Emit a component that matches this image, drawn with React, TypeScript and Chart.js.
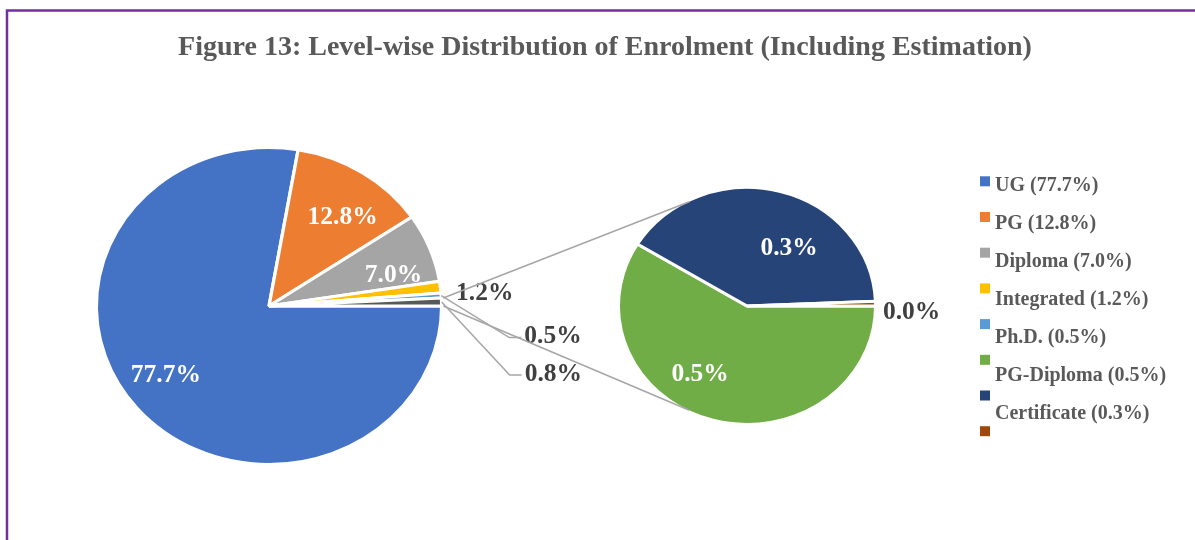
import React, { useEffect, useRef } from 'react';
import { Chart, registerables } from 'chart.js';

Chart.register(...registerables);

// ---------- data ----------
const titleText = 'Figure 13: Level-wise Distribution of Enrolment (Including Estimation)';
const mainCategories = ['UG', 'PG', 'Diploma', 'Integrated', 'Ph.D.'];
const mainValues = [77.7, 12.8, 7.0, 1.2, 0.5];
const secondaryCategories = ['PG-Diploma', 'Certificate', ''];
const secondaryValues = [0.47, 0.325, 0.005];

// ---------- styles ----------
const mainColors = ['#4472C4', '#ED7D31', '#A5A5A5', '#FFC000', '#5B9BD5'];
const otherSliceColor = '#595959';
const secondaryColors = ['#70AD47', '#264478', '#9E480E'];

const W = 1195;
const H = 540;
const FONT = "'Liberation Serif', 'Times New Roman', serif";
const TEXT_GRAY = '#595959';
const LABEL_DARK = '#404040';
const LINE_GRAY = '#A6A6A6';
const FRAME = '#7030A0';
const SLICE_BORDER = 3;

const MAIN_GEOM = { cx: 269, cy: 306, r: 157, sx: 171 / 157 };
const SEC_GEOM = { cx: 747, cy: 306, r: 117, sx: 127 / 117 };

// label placement styles (per slice)
const mainLabelStyle: any[] = [
  { kind: 'in', f: 0.72, dx: -9, dy: -6 },
  { kind: 'in', f: 0.72, dx: 7, dy: 4 },
  { kind: 'in', f: 0.72, dx: 10, dy: 9 },
  { kind: 'out', dx: 46, dy: 4.5 },
  { kind: 'leader', ex: 68, ey: 42 },
  { kind: 'leader', ex: 68, ey: 73, clipY: 381 },
];
const secLabelStyle: any[] = [
  { kind: 'in', f: 0.72, dx: -22, dy: -15 },
  { kind: 'in', f: 0.72, dx: 19, dy: 22 },
  { kind: 'outLeft', dx: 9, dy: 7 },
];

const LABEL_SIZE = 25.5;

function padFor(g: { cx: number; cy: number }) {
  const hw = Math.min(g.cx, W - g.cx);
  const hh = Math.min(g.cy, H - g.cy);
  return { left: g.cx - hw, right: W - (g.cx + hw), top: g.cy - hh, bottom: H - (g.cy + hh) };
}

function fmt(v: number) {
  return v.toFixed(1) + '%';
}

function drawCenteredText(ctx: CanvasRenderingContext2D, text: string, x: number, yc: number, size: number, color: string, align: CanvasTextAlign) {
  ctx.font = `bold ${size}px ${FONT}`;
  ctx.fillStyle = color;
  ctx.textAlign = align;
  ctx.textBaseline = 'alphabetic';
  ctx.fillText(text, x, yc + size * 0.34);
}

function ellipsePlugin(id: string, sx: number) {
  return {
    id,
    beforeDatasetsDraw(chart: any) {
      const a = chart.getDatasetMeta(0).data[0];
      const ctx = chart.ctx;
      ctx.save();
      ctx.translate(a.x, a.y);
      ctx.scale(sx, 1);
      ctx.translate(-a.x, -a.y);
    },
    afterDatasetsDraw(chart: any) {
      chart.ctx.restore();
    },
  };
}

function pointOn(arc: any, sx: number, angle: number, f: number) {
  const R = arc.outerRadius - SLICE_BORDER / 2;
  return { x: arc.x + sx * R * f * Math.cos(angle), y: arc.y + R * f * Math.sin(angle) };
}

function drawSliceLabels(chart: any, sx: number, styles: any[], values: number[]) {
  const ctx: CanvasRenderingContext2D = chart.ctx;
  const arcs = chart.getDatasetMeta(0).data;
  arcs.forEach((arc: any, i: number) => {
    const st = styles[i];
    const mid = (arc.startAngle + arc.endAngle) / 2;
    const text = fmt(values[i]);
    if (st.kind === 'in') {
      const p = pointOn(arc, sx, mid, st.f);
      drawCenteredText(ctx, text, p.x + st.dx, p.y + st.dy, LABEL_SIZE, '#FFFFFF', 'center');
    } else if (st.kind === 'out') {
      const p = pointOn(arc, sx, mid, 1);
      drawCenteredText(ctx, text, p.x + st.dx, p.y + st.dy, LABEL_SIZE, LABEL_DARK, 'center');
    } else if (st.kind === 'outLeft') {
      const p = pointOn(arc, sx, mid, 1);
      drawCenteredText(ctx, text, p.x + st.dx, p.y + st.dy, LABEL_SIZE, LABEL_DARK, 'left');
    } else if (st.kind === 'leader') {
      const p = pointOn(arc, sx, mid, 1.01);
      const ex = p.x + st.ex;
      const ey = p.y + st.ey;
      ctx.save();
      ctx.strokeStyle = LINE_GRAY;
      ctx.lineWidth = 1.5;
      ctx.beginPath();
      ctx.moveTo(p.x, p.y);
      ctx.lineTo(ex, ey);
      ctx.lineTo(ex + 12, ey);
      ctx.stroke();
      ctx.restore();
      ctx.save();
      if (st.clipY) {
        ctx.beginPath();
        ctx.rect(0, 0, W, st.clipY);
        ctx.clip();
      }
      drawCenteredText(ctx, text, ex + 15, ey - 3, LABEL_SIZE, LABEL_DARK, 'left');
      ctx.restore();
    }
  });
}

const legendNames = [...mainCategories, ...secondaryCategories];
const legendValues = [...mainValues, ...secondaryValues];
const legendColors = [...mainColors, ...secondaryColors];

export default function App() {
  const mainRef = useRef<HTMLCanvasElement | null>(null);
  const secRef = useRef<HTMLCanvasElement | null>(null);

  useEffect(() => {
    if (!mainRef.current || !secRef.current) return;
    const otherValue = secondaryValues.reduce((a, b) => a + b, 0);
    const mainData = [...mainValues, otherValue];

    const decorPlugin = {
      id: 'decorMain',
      beforeDraw(chart: any) {
        const ctx: CanvasRenderingContext2D = chart.ctx;
        ctx.save();
        ctx.fillStyle = '#FFFFFF';
        ctx.fillRect(0, 0, W, H);
        // frame
        ctx.strokeStyle = FRAME;
        ctx.lineWidth = 2.5;
        ctx.beginPath();
        ctx.moveTo(7, H + 5);
        ctx.lineTo(7, 10.5);
        ctx.lineTo(W + 5, 10.5);
        ctx.stroke();
        // title
        ctx.font = `bold 28px ${FONT}`;
        ctx.fillStyle = TEXT_GRAY;
        ctx.textAlign = 'center';
        ctx.textBaseline = 'alphabetic';
        ctx.fillText(titleText, 605, 55);
        // legend
        legendNames.forEach((name, i) => {
          ctx.fillStyle = legendColors[i];
          const my = 181.3 + i * 35.7;
          ctx.fillRect(980, my - 5, 10, 10);
          if (name) {
            ctx.font = `bold 20px ${FONT}`;
            ctx.fillStyle = TEXT_GRAY;
            ctx.textAlign = 'left';
            ctx.fillText(`${name} (${fmt(legendValues[i])})`, 995, 191 + i * 38);
          }
        });
        ctx.restore();
      },
      afterDraw(chart: any) {
        drawSliceLabels(chart, MAIN_GEOM.sx, mainLabelStyle, mainData);
      },
    };

    const chartA = new Chart(mainRef.current, {
      type: 'pie',
      data: {
        labels: [...mainCategories, 'Other'],
        datasets: [
          {
            data: mainData,
            backgroundColor: [...mainColors, otherSliceColor],
            borderColor: '#FFFFFF',
            borderWidth: SLICE_BORDER,
          },
        ],
      },
      options: {
        responsive: false,
        animation: false,
        events: [],
        rotation: 90,
        radius: MAIN_GEOM.r + SLICE_BORDER / 2,
        layout: { padding: padFor(MAIN_GEOM) },
        plugins: { legend: { display: false }, tooltip: { enabled: false }, title: { display: false } },
      } as any,
      plugins: [decorPlugin, ellipsePlugin('ellipseMain', MAIN_GEOM.sx)],
    });

    const secPlugin = {
      id: 'decorSec',
      afterDraw(chart: any) {
        const ctx: CanvasRenderingContext2D = chart.ctx;
        // connector lines from the "other" slice to the secondary pie
        const aArcs = chartA.getDatasetMeta(0).data as any[];
        const other = aArcs[aArcs.length - 1];
        const bArc = chart.getDatasetMeta(0).data[0];
        const conn = (117 * Math.PI) / 180;
        const p1 = pointOn(other, MAIN_GEOM.sx, other.startAngle, 1.02);
        const p2 = pointOn(other, MAIN_GEOM.sx, other.endAngle, 1.02);
        const q1 = pointOn(bArc, SEC_GEOM.sx, -conn, 1.0);
        const q2 = pointOn(bArc, SEC_GEOM.sx, conn, 1.0);
        ctx.save();
        ctx.strokeStyle = LINE_GRAY;
        ctx.lineWidth = 1.5;
        ctx.beginPath();
        ctx.moveTo(p1.x, p1.y);
        ctx.lineTo(q1.x, q1.y);
        ctx.moveTo(p2.x, p2.y);
        ctx.lineTo(q2.x, q2.y);
        ctx.stroke();
        ctx.restore();
        drawSliceLabels(chart, SEC_GEOM.sx, secLabelStyle, secondaryValues);
      },
    };

    const chartB = new Chart(secRef.current, {
      type: 'pie',
      data: {
        labels: secondaryCategories,
        datasets: [
          {
            data: secondaryValues,
            backgroundColor: secondaryColors,
            borderColor: '#FFFFFF',
            borderWidth: SLICE_BORDER,
          },
        ],
      },
      options: {
        responsive: false,
        animation: false,
        events: [],
        rotation: 90,
        radius: SEC_GEOM.r + SLICE_BORDER / 2,
        layout: { padding: padFor(SEC_GEOM) },
        plugins: { legend: { display: false }, tooltip: { enabled: false }, title: { display: false } },
      } as any,
      plugins: [ellipsePlugin('ellipseSec', SEC_GEOM.sx), secPlugin],
    });

    return () => {
      chartB.destroy();
      chartA.destroy();
    };
  }, []);

  const canvasStyle: React.CSSProperties = { position: 'absolute', left: 0, top: 0, width: W, height: H };
  return (
    <div style={{ position: 'absolute', left: 0, top: 0, width: W, height: H, background: '#FFFFFF' }}>
      <canvas ref={mainRef} width={W} height={H} style={canvasStyle} />
      <canvas ref={secRef} width={W} height={H} style={canvasStyle} />
    </div>
  );
}
